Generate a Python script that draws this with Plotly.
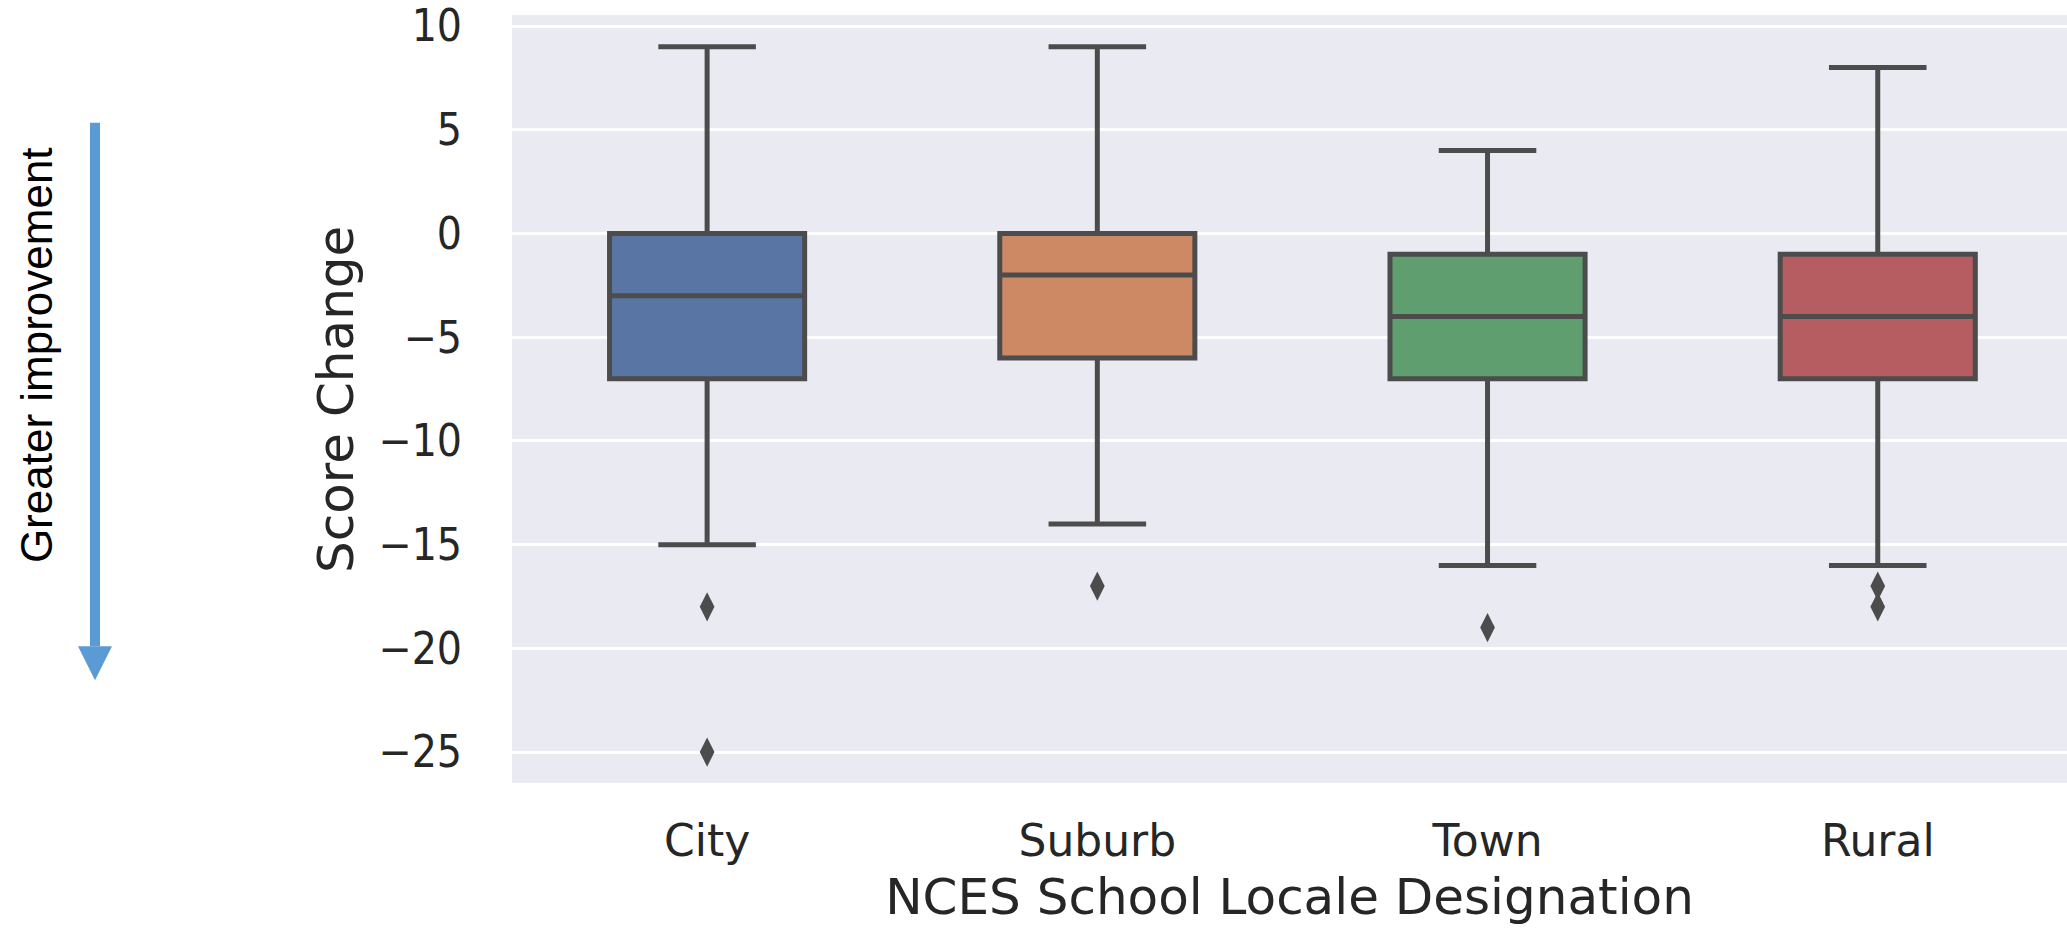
import plotly.graph_objects as go

# Box-plot summary statistics per NCES locale
categories = ["City", "Suburb", "Town", "Rural"]
upper_whisker = [9, 9, 4, 8]
q3_values = [0, 0, -1, -1]
median_values = [-3, -2, -4, -4]
q1_values = [-7, -6, -7, -7]
lower_whisker = [-15, -14, -16, -16]
outlier_values = [[-18, -25], [-17], [-19], [-17, -18]]

box_colors = ["#5975a4", "#cc8963", "#5f9e6e", "#b55d60"]
edge_color = "#4c4c4c"
text_color = "#262626"

y_ticks = [10, 5, 0, -5, -10, -15, -20, -25]
y_tick_text = [str(v).replace("-", "\u2212") for v in y_ticks]

W, H = 2067, 930
M_L, M_R, M_T, M_B = 512, 0, 13, 147
PLOT_W = W - M_L - M_R
PLOT_H = H - M_T - M_B


def px_x(px):
    return (px - M_L) / PLOT_W


def px_y(py):
    return (H - M_B - py) / PLOT_H


fig = go.Figure()

for i, cat in enumerate(categories):
    fig.add_trace(go.Box(
        x=[cat],
        q1=[q1_values[i]],
        median=[median_values[i]],
        q3=[q3_values[i]],
        lowerfence=[lower_whisker[i]],
        upperfence=[upper_whisker[i]],
        fillcolor=box_colors[i],
        line=dict(color=edge_color, width=5),
        width=0.5,
        whiskerwidth=0.5,
        showlegend=False,
        hoverinfo="skip",
    ))
    fig.add_trace(go.Scatter(
        x=[cat] * len(outlier_values[i]),
        y=outlier_values[i],
        mode="markers",
        marker=dict(symbol="diamond-tall", size=21, color=edge_color,
                    line=dict(width=0)),
        showlegend=False,
        hoverinfo="skip",
    ))

# Side arrow pointing downwards ("greater improvement")
shaft_x = 95
fig.add_shape(type="rect", xref="paper", yref="paper",
              x0=px_x(shaft_x - 5), x1=px_x(shaft_x + 5),
              y0=px_y(646), y1=px_y(121),
              fillcolor="#5b9bd5", line=dict(width=0), layer="above")
fig.add_shape(type="path", xref="paper", yref="paper",
              path=(f"M {px_x(shaft_x - 17)},{px_y(646)} "
                    f"L {px_x(shaft_x + 17)},{px_y(646)} "
                    f"L {px_x(shaft_x)},{px_y(680)} Z"),
              fillcolor="#5b9bd5", line=dict(width=0), layer="above")
fig.add_annotation(text="Greater improvement", xref="paper", yref="paper",
                   x=px_x(36), y=px_y(354), textangle=-90, showarrow=False,
                   xanchor="center", yanchor="middle",
                   font=dict(family="Liberation Sans", size=44, color="#000000"))

# y-axis title placed next to the tick labels
fig.add_annotation(text="Score Change", xref="paper", yref="paper",
                   x=px_x(336), y=px_y(399), textangle=-90, showarrow=False,
                   xanchor="center", yanchor="middle",
                   font=dict(family="DejaVu Sans", size=50, color=text_color))

fig.update_layout(
    width=W, height=H,
    margin=dict(l=M_L, r=M_R, t=M_T, b=M_B, pad=0),
    paper_bgcolor="white",
    plot_bgcolor="#eaeaf2",
    boxmode="overlay",
    font=dict(family="DejaVu Sans", color=text_color),
    xaxis=dict(
        type="category",
        range=[-0.5, 3.485],
        showgrid=False, zeroline=False, showline=False, ticks="",
        tickfont=dict(size=44, color=text_color),
        ticklabelstandoff=28,
        title=dict(text="NCES School Locale Designation",
                   font=dict(size=50, color=text_color), standoff=13),
    ),
    yaxis=dict(
        range=[-26.49, 10.53],
        tickvals=y_ticks, ticktext=y_tick_text,
        showgrid=True, gridcolor="white", gridwidth=3,
        zeroline=False, showline=False, ticks="",
        tickfont=dict(size=44, color=text_color,
                      family="DejaVu Sans Condensed, DejaVu Sans"),
        ticklabelstandoff=49,
        ticklabeloverflow="allow",
    ),
)

fig.write_html("out.html")
